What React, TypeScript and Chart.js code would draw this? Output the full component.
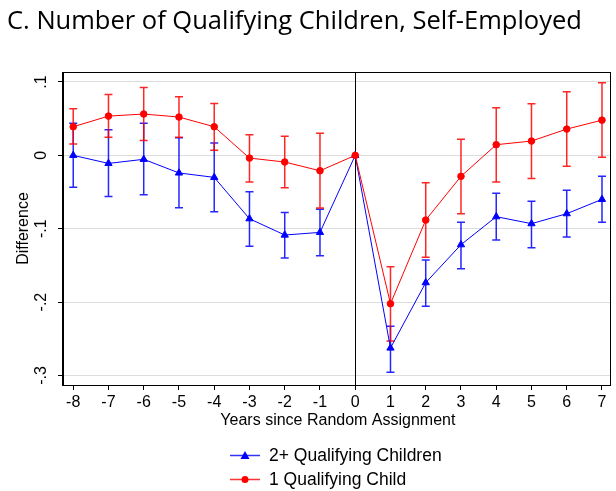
import React, { useEffect, useRef } from "react";
import { Chart, registerables } from "chart.js";

Chart.register(...registerables);

// Event-study estimates by year relative to random assignment
const years = [-8, -7, -6, -5, -4, -3, -2, -1, 0, 1, 2, 3, 4, 5, 6, 7];

const twoPlus = [0, -0.011, -0.0054, -0.024, -0.03, -0.0864, -0.1086, -0.105, 0, -0.2626, -0.1735, -0.1218, -0.0836, -0.0931, -0.0795, -0.06];
const twoPlusLo = [-0.0436, -0.056, -0.0537, -0.0714, -0.077, -0.124, -0.14, -0.137, null, -0.2957, -0.2058, -0.1545, -0.1154, -0.1259, -0.1113, -0.0913];
const twoPlusHi = [0.0436, 0.035, 0.0436, 0.024, 0.017, -0.0496, -0.078, -0.0736, null, -0.233, -0.1427, -0.0913, -0.0518, -0.0627, -0.0477, -0.0286];

const oneChild = [0.039, 0.0535, 0.0563, 0.0522, 0.039, -0.0037, -0.0091, -0.021, 0, -0.2022, -0.0882, -0.0286, 0.0145, 0.0195, 0.0358, 0.048];
const oneChildLo = [0.0154, 0.0245, 0.0204, 0.0245, 0.0068, -0.0364, -0.044, -0.0718, null, -0.253, -0.139, -0.0795, -0.0364, -0.0314, -0.015, -0.0027];
const oneChildHi = [0.0635, 0.083, 0.0926, 0.08, 0.0708, 0.028, 0.0259, 0.03, null, -0.152, -0.0373, 0.0218, 0.0649, 0.0703, 0.0867, 0.099];

const yTickValues = [0.1, 0, -0.1, -0.2, -0.3];
const yTickLabels = [".1", "0", "-.1", "-.2", "-.3"];

const titleText = "C. Number of Qualifying Children, Self-Employed";
const xTitle = "Years since Random Assignment";
const yTitle = "Difference";
const seriesNames = ["2+ Qualifying Children", "1 Qualifying Child"];

const BLUE = "#0000ff";
const RED = "#ff0000";
const SANS = "'Liberation Sans', Arial, sans-serif";

const errorBars = {
  id: "errorBars",
  beforeDatasetsDraw(chart: any) {
    const { ctx, scales } = chart;
    const sets = [
      { lo: twoPlusLo, hi: twoPlusHi, color: "rgba(0,0,255,0.85)" },
      { lo: oneChildLo, hi: oneChildHi, color: "rgba(255,0,0,0.85)" },
    ];
    ctx.save();
    ctx.lineWidth = 1.5;
    for (const s of sets) {
      ctx.strokeStyle = s.color;
      years.forEach((yr, i) => {
        const lo = s.lo[i];
        const hi = s.hi[i];
        if (lo == null || hi == null) return;
        const x = scales.x.getPixelForValue(yr);
        const y1 = scales.y.getPixelForValue(lo);
        const y2 = scales.y.getPixelForValue(hi);
        ctx.beginPath();
        ctx.moveTo(x, y1);
        ctx.lineTo(x, y2);
        ctx.moveTo(x - 4, y1);
        ctx.lineTo(x + 4, y1);
        ctx.moveTo(x - 4, y2);
        ctx.lineTo(x + 4, y2);
        ctx.stroke();
      });
    }
    ctx.restore();
  },
};

const frameAndText = {
  id: "frameAndText",
  beforeDatasetsDraw(chart: any) {
    const { ctx, chartArea, scales } = chart;
    ctx.save();
    // vertical reference line at year 0
    const x0 = Math.round(scales.x.getPixelForValue(0)) + 0.5;
    ctx.strokeStyle = "#000";
    ctx.lineWidth = 1;
    ctx.beginPath();
    ctx.moveTo(x0, chartArea.top);
    ctx.lineTo(x0, chartArea.bottom);
    ctx.stroke();
    ctx.restore();
  },
  afterDraw(chart: any) {
    const { ctx, chartArea, scales } = chart;
    ctx.save();
    // plot frame
    ctx.strokeStyle = "#000";
    ctx.lineWidth = 1;
    ctx.strokeRect(
      Math.round(chartArea.left) - 0.5,
      Math.round(chartArea.top) + 0.5,
      Math.round(chartArea.right - chartArea.left),
      Math.round(chartArea.bottom - chartArea.top)
    );

    // title
    ctx.fillStyle = "#000";
    ctx.font = "25.5px 'Open Sans', sans-serif";
    ctx.textAlign = "left";
    ctx.textBaseline = "alphabetic";
    ctx.fillText(titleText, 7, 29);

    // rotated y tick labels
    ctx.font = `16px ${SANS}`;
    ctx.fillStyle = "#000";
    yTickValues.forEach((v, i) => {
      const y = scales.y.getPixelForValue(v);
      ctx.save();
      ctx.translate(42, y);
      ctx.rotate(-Math.PI / 2);
      ctx.textAlign = "center";
      ctx.textBaseline = "middle";
      ctx.fillText(yTickLabels[i], 0, 0);
      ctx.restore();
    });

    // y axis title
    ctx.save();
    ctx.translate(24, (chartArea.top + chartArea.bottom) / 2);
    ctx.rotate(-Math.PI / 2);
    ctx.textAlign = "center";
    ctx.textBaseline = "middle";
    ctx.fillText(yTitle, 0, 0);
    ctx.restore();

    // x axis title
    ctx.textAlign = "center";
    ctx.textBaseline = "middle";
    ctx.fillText(xTitle, (chartArea.left + chartArea.right) / 2 + 1, 421);

    // legend
    ctx.font = `17.5px ${SANS}`;
    const rows = [
      { name: seriesNames[0], color: BLUE, style: "triangle", y: 455 },
      { name: seriesNames[1], color: RED, style: "circle", y: 479 },
    ];
    for (const r of rows) {
      ctx.strokeStyle = r.color;
      ctx.globalAlpha = 0.8;
      ctx.lineWidth = 1.5;
      ctx.beginPath();
      ctx.moveTo(230, r.y + 0.5);
      ctx.lineTo(260, r.y + 0.5);
      ctx.stroke();
      ctx.globalAlpha = 1;
      ctx.fillStyle = r.color;
      ctx.beginPath();
      if (r.style === "triangle") {
        ctx.moveTo(245, r.y - 4);
        ctx.lineTo(249.5, r.y + 4);
        ctx.lineTo(240.5, r.y + 4);
        ctx.closePath();
      } else {
        ctx.arc(245, r.y + 0.5, 3.5, 0, Math.PI * 2);
      }
      ctx.fill();
      ctx.fillStyle = "#000";
      ctx.textAlign = "left";
      ctx.textBaseline = "middle";
      ctx.fillText(r.name, 269, r.y + 1);
    }
    ctx.restore();
  },
};

export default function App() {
  const canvasRef = useRef<HTMLCanvasElement | null>(null);

  useEffect(() => {
    const canvas = canvasRef.current;
    if (!canvas) return;
    const chart = new Chart(canvas, {
      type: "line",
      data: {
        datasets: [
          {
            label: seriesNames[0],
            data: years.map((x, i) => ({ x, y: twoPlus[i] })),
            borderColor: BLUE,
            backgroundColor: BLUE,
            borderWidth: 1,
            pointStyle: "triangle",
            pointRadius: 4.2,
            pointBorderWidth: 1,
            order: 1,
          },
          {
            label: seriesNames[1],
            data: years.map((x, i) => ({ x, y: oneChild[i] })),
            borderColor: RED,
            backgroundColor: RED,
            borderWidth: 1,
            pointStyle: "circle",
            pointRadius: 3.3,
            pointBorderWidth: 1,
            order: 0,
          },
        ],
      },
      options: {
        responsive: false,
        animation: false,
        layout: { padding: { top: 72, left: 0, right: 1, bottom: 60 } },
        plugins: {
          legend: { display: false },
          title: { display: false },
          tooltip: { enabled: false },
        },
        scales: {
          x: {
            type: "linear",
            min: -8.29,
            max: 7.25,
            afterBuildTicks: (scale: any) => {
              scale.ticks = years.map((v) => ({ value: v }));
            },
            afterFit: (scale: any) => {
              scale.height = 46;
            },
            grid: {
              drawOnChartArea: false,
              drawTicks: true,
              tickLength: 5,
              tickColor: "#000",
            },
            border: { display: true, color: "#000", width: 1 },
            ticks: {
              color: "#000",
              font: { family: SANS, size: 16 },
              padding: 3,
              maxRotation: 0,
              autoSkip: false,
              callback: (v: any) => String(v),
            },
          },
          y: {
            type: "linear",
            min: -0.313,
            max: 0.1136,
            afterBuildTicks: (scale: any) => {
              scale.ticks = yTickValues.map((v) => ({ value: v }));
            },
            afterFit: (scale: any) => {
              scale.width = 63;
            },
            grid: {
              color: "#dddddd",
              lineWidth: 1,
              drawTicks: true,
              tickLength: 5,
              tickColor: "#000",
            },
            border: { display: true, color: "#000", width: 1 },
            ticks: { display: false },
          },
        },
      },
      plugins: [frameAndText, errorBars],
    });
    return () => chart.destroy();
  }, []);

  return (
    <div style={{ position: "absolute", left: 0, top: 0, width: 616, height: 491, background: "#fff" }}>
      <canvas ref={canvasRef} width={616} height={491} />
    </div>
  );
}
